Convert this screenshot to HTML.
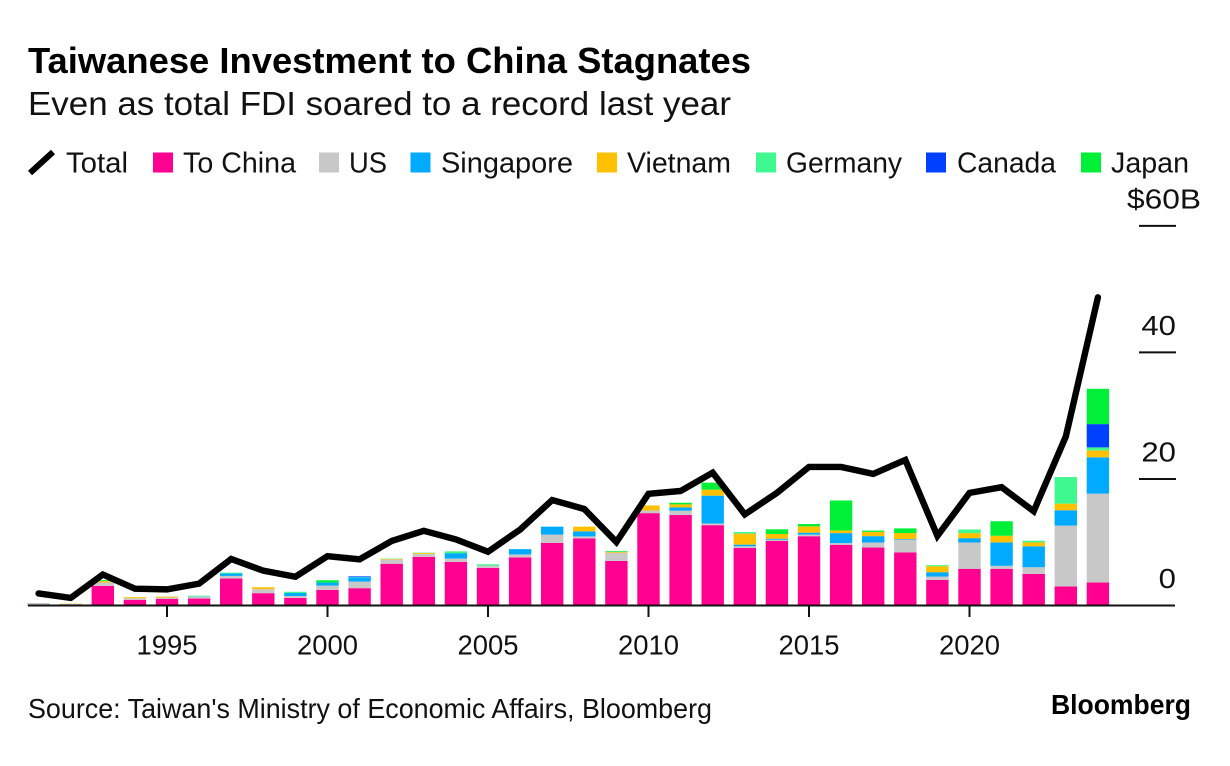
<!DOCTYPE html>
<html lang="en">
<head>
<meta charset="utf-8">
<title>Taiwanese Investment to China Stagnates</title>
<style>
html,body{margin:0;padding:0;background:#fff;}
svg{display:block;font-family:"Liberation Sans",Arial,sans-serif;fill:#111;}
</style>
</head>
<body>
<svg id="chart" width="1230" height="766" viewBox="0 0 1230 766" xmlns="http://www.w3.org/2000/svg">
  <text x="28" y="73" font-size="36" font-weight="700" fill="#000" textLength="723" lengthAdjust="spacingAndGlyphs">Taiwanese Investment to China Stagnates</text>
  <text x="28" y="115" font-size="33" textLength="703" lengthAdjust="spacingAndGlyphs">Even as total FDI soared to a record last year</text>

  <g font-size="29">
    <g>
      <line x1="30" y1="173" x2="53" y2="152" stroke="#000" stroke-width="6"/>
      <text x="66" y="172.5" textLength="62" lengthAdjust="spacingAndGlyphs">Total</text>
    </g>
    <g>
      <rect x="153" y="152.5" width="20" height="20" fill="#ff0090"/>
      <text x="183" y="172.5" textLength="113" lengthAdjust="spacingAndGlyphs">To China</text>
    </g>
    <g>
      <rect x="319" y="152.5" width="20" height="20" fill="#c8c8c8"/>
      <text x="349" y="172.5" textLength="38" lengthAdjust="spacingAndGlyphs">US</text>
    </g>
    <g>
      <rect x="410.5" y="152.5" width="20" height="20" fill="#00aaff"/>
      <text x="441" y="172.5" textLength="132" lengthAdjust="spacingAndGlyphs">Singapore</text>
    </g>
    <g>
      <rect x="597" y="152.5" width="20" height="20" fill="#ffc000"/>
      <text x="627" y="172.5" textLength="104" lengthAdjust="spacingAndGlyphs">Vietnam</text>
    </g>
    <g>
      <rect x="756" y="152.5" width="20" height="20" fill="#40f890"/>
      <text x="786" y="172.5" textLength="116" lengthAdjust="spacingAndGlyphs">Germany</text>
    </g>
    <g>
      <rect x="926" y="152.5" width="20" height="20" fill="#0040ff"/>
      <text x="957" y="172.5" textLength="99" lengthAdjust="spacingAndGlyphs">Canada</text>
    </g>
    <g>
      <rect x="1081" y="152.5" width="20" height="20" fill="#00f038"/>
      <text x="1111" y="172.5" textLength="78" lengthAdjust="spacingAndGlyphs">Japan</text>
    </g>
  </g>

  <g id="bars"></g>
  <g id="yaxis"></g>
  <g id="xaxis"></g>
  <g id="lineLayer"></g>

  <text x="28" y="718" font-size="27.5" textLength="684" lengthAdjust="spacingAndGlyphs">Source: Taiwan's Ministry of Economic Affairs, Bloomberg</text>
  <text x="1051" y="714" font-size="28" font-weight="700" fill="#000" textLength="140" lengthAdjust="spacingAndGlyphs">Bloomberg</text>
</svg>

<script>
const years = [1991,1992,1993,1994,1995,1996,1997,1998,1999,2000,2001,2002,2003,2004,2005,2006,2007,2008,2009,2010,2011,2012,2013,2014,2015,2016,2017,2018,2019,2020,2021,2022,2023,2024];
const total = [1.9,1.2,4.9,2.65,2.55,3.45,7.35,5.5,4.55,7.8,7.3,10.2,11.8,10.45,8.5,12.0,16.67,15.25,10.03,17.66,18.1,21.0,14.4,17.8,21.9,21.9,20.8,23.0,11.0,17.8,18.7,14.9,26.7,48.7];
const toChina = [0.15,0.15,3.1,0.9,1.05,1.1,4.26,1.95,1.2,2.47,2.74,6.6,7.7,6.9,5.95,7.6,9.9,10.6,7.05,14.6,14.3,12.7,9.1,10.2,10.95,9.6,9.16,8.4,4.05,5.8,5.8,5.0,3.0,3.63];
const us = [0.25,0.1,0.55,0.26,0.2,0.3,0.42,0.63,0.3,0.68,1.05,0.68,0.47,0.53,0.37,0.47,1.3,0.32,1.3,0.42,0.68,0.26,0.26,0.2,0.26,0.26,0.8,2.0,0.53,4.16,0.47,1.05,9.63,14.05];
const singapore = [0,0,0,0,0,0.05,0.37,0,0.47,0.47,0.68,0,0,0.84,0,0.84,1.26,0.8,0,0,0.53,4.4,0.26,0.16,0.3,1.58,1.0,0.1,0.68,0.68,3.7,3.3,2.42,5.74];
const vietnam = [0,0.05,0.2,0.15,0.15,0,0,0.3,0,0,0,0.1,0.15,0,0,0,0,0.74,0.13,0.8,0.47,0.95,1.74,0.74,1.0,0.42,0.68,0.95,0.95,0.8,1.05,0.63,1.05,1.1];
const germany = [0,0,0,0,0,0.1,0.15,0,0.2,0,0.05,0.05,0.05,0.13,0.2,0,0,0,0.05,0,0,0,0.26,0,0,0,0,0,0.1,0.58,0,0.26,4.2,0.47];
const canada = [0,0,0,0,0,0,0,0,0,0,0.1,0,0,0,0,0,0,0,0,0,0,0,0,0,0,0,0,0,0,0,0,0,0,3.68];
const japan = [0,0,0.15,0,0,0,0,0,0,0.37,0,0,0,0.13,0,0,0,0,0.08,0,0.26,1.1,0,0.74,0.37,4.74,0.2,0.74,0.06,0,2.3,0,0,5.58];
const yTicks = [0,20,40,60];
const yLabels = ["0","20","40","$60B"];
const xTicks = [1995,2000,2005,2010,2015,2020];
const xLabels = ["1995","2000","2005","2010","2015","2020"];

const SVGNS = "http://www.w3.org/2000/svg";
function xScale(year){ return 167 + (year - 1995) * 32.1; }
function yScale(v){ return 605.5 - v * 6.327; }

const seriesList = [
  {key:"to-china", values:toChina, color:"#ff0090"},
  {key:"us", values:us, color:"#c8c8c8"},
  {key:"singapore", values:singapore, color:"#00aaff"},
  {key:"vietnam", values:vietnam, color:"#ffc000"},
  {key:"germany", values:germany, color:"#40f890"},
  {key:"canada", values:canada, color:"#0040ff"},
  {key:"japan", values:japan, color:"#00f038"}
];
const barWidth = 22.4;

const barsG = document.getElementById("bars");
years.forEach(function(year, i){
  let base = 0;
  seriesList.forEach(function(s){
    const v = s.values[i];
    if (v <= 0) return;
    const r = document.createElementNS(SVGNS, "rect");
    
    
    r.setAttribute("x", xScale(year) - barWidth / 2);
    r.setAttribute("y", yScale(base + v));
    r.setAttribute("width", barWidth);
    r.setAttribute("height", yScale(base) - yScale(base + v));
    r.setAttribute("fill", s.color);
    barsG.appendChild(r);
    base += v;
  });
});

const yG = document.getElementById("yaxis");
yTicks.forEach(function(t, i){
  const y = yScale(t);
  if (t !== 0) {
    const l = document.createElementNS(SVGNS, "line");
    
    
    l.setAttribute("x1", 1139);
    l.setAttribute("x2", 1176);
    l.setAttribute("y1", y);
    l.setAttribute("y2", y);
    l.setAttribute("stroke", "#111");
    l.setAttribute("stroke-width", 2);
    yG.appendChild(l);
  }
  const tx = document.createElementNS(SVGNS, "text");
  
  
  tx.setAttribute("font-size", 27.5);
  tx.setAttribute("y", y - 17.5);
  const label = yLabels[i];
  const labelWidth = label.length === 4 ? 74 : label.length * 17.3;
  tx.setAttribute("x", label.length === 4 ? 1127 : 1176 - labelWidth);
  tx.setAttribute("textLength", labelWidth);
  tx.setAttribute("lengthAdjust", "spacingAndGlyphs");
  tx.textContent = label;
  yG.appendChild(tx);
});

const xG = document.getElementById("xaxis");
const axisLine = document.createElementNS(SVGNS, "line");


axisLine.setAttribute("x1", 28);
axisLine.setAttribute("x2", 1175);
axisLine.setAttribute("y1", 605.5);
axisLine.setAttribute("y2", 605.5);
axisLine.setAttribute("stroke", "#111");
axisLine.setAttribute("stroke-width", 2);
xG.appendChild(axisLine);
xTicks.forEach(function(t, i){
  const x = xScale(t);
  const l = document.createElementNS(SVGNS, "line");
  
  
  l.setAttribute("x1", x);
  l.setAttribute("x2", x);
  l.setAttribute("y1", 605.5);
  l.setAttribute("y2", 617);
  l.setAttribute("stroke", "#111");
  l.setAttribute("stroke-width", 2);
  xG.appendChild(l);
  const tx = document.createElementNS(SVGNS, "text");
  
  
  tx.setAttribute("font-size", 27.5);
  tx.setAttribute("x", x - 30.5);
  tx.setAttribute("y", 654.5);
  tx.setAttribute("textLength", 61);
  tx.setAttribute("lengthAdjust", "spacingAndGlyphs");
  tx.textContent = xLabels[i];
  xG.appendChild(tx);
});

const line = document.createElementNS(SVGNS, "polyline");


line.setAttribute("points", years.map(function(y, i){ return xScale(y) + "," + yScale(total[i]); }).join(" "));
line.setAttribute("fill", "none");
line.setAttribute("stroke", "#000");
line.setAttribute("stroke-width", 6.4);
line.setAttribute("stroke-linejoin", "miter");
line.setAttribute("stroke-linecap", "round");
document.getElementById("lineLayer").appendChild(line);
</script>
</body>
</html>
